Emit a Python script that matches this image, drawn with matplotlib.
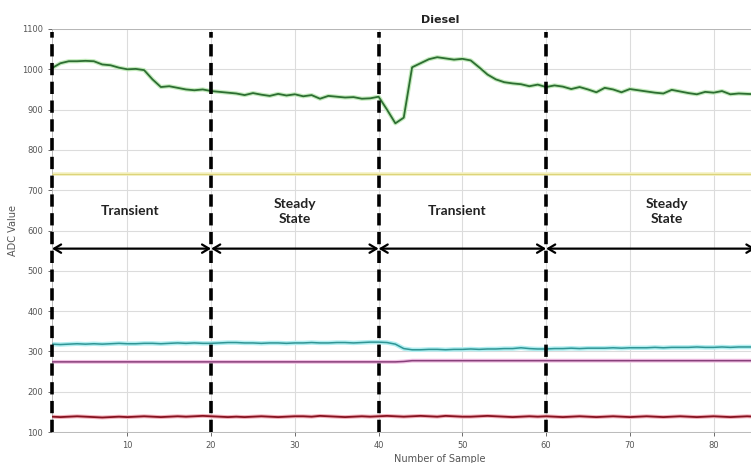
import matplotlib
matplotlib.use("Agg")
import matplotlib.pyplot as plt

samples = list(range(1, 86))
green = [1003, 1015, 1020, 1020, 1021, 1020, 1012, 1010, 1004, 1000,
         1001, 998, 975, 956, 958, 954, 950, 948, 950, 946,
         944, 942, 940, 936, 941, 937, 934, 939, 935, 938,
         933, 936, 927, 934, 932, 930, 931, 927, 928, 932,
         900, 866, 880, 1005, 1015, 1025, 1030, 1027, 1024, 1026,
         1022, 1005, 987, 975, 968, 965, 963, 958, 962, 956,
         960, 957, 951, 956, 950, 943, 954, 950, 943, 951,
         948, 945, 942, 940, 949, 945, 941, 938, 944, 942,
         946, 938, 940, 939, 938]
yellow = [741] * 85
cyan = [318, 317, 318, 319, 318, 319, 318, 319, 320, 319,
        319, 320, 320, 319, 320, 321, 320, 321, 320, 320,
        321, 322, 322, 321, 321, 320, 321, 321, 320, 321,
        321, 322, 321, 321, 322, 322, 321, 322, 323, 323,
        322, 318, 307, 304, 304, 305, 305, 304, 305, 305,
        306, 305, 306, 306, 307, 307, 309, 307, 306, 306,
        307, 307, 308, 307, 308, 308, 308, 309, 308, 309,
        309, 309, 310, 309, 310, 310, 310, 311, 310, 310,
        311, 310, 311, 311, 311]
magenta = [274, 274, 274, 274, 274, 274, 274, 274, 274, 274,
           274, 274, 274, 274, 274, 274, 274, 274, 274, 274,
           274, 274, 274, 274, 274, 274, 274, 274, 274, 274,
           274, 274, 274, 274, 274, 274, 274, 274, 274, 274,
           274, 274, 275, 277, 277, 277, 277, 277, 277, 277,
           277, 277, 277, 277, 277, 277, 277, 277, 277, 277,
           277, 277, 277, 277, 277, 277, 277, 277, 277, 277,
           277, 277, 277, 277, 277, 277, 277, 277, 277, 277,
           277, 277, 277, 277, 277]
red = [138, 137, 138, 139, 138, 137, 136, 137, 138, 137,
       138, 139, 138, 137, 138, 139, 138, 139, 140, 139,
       138, 137, 138, 137, 138, 139, 138, 137, 138, 139,
       139, 138, 140, 139, 138, 137, 138, 139, 138, 139,
       140, 139, 138, 139, 140, 139, 138, 140, 139, 138,
       138, 139, 140, 139, 138, 137, 138, 139, 138, 139,
       138, 137, 138, 139, 138, 137, 138, 139, 138, 137,
       138, 139, 138, 137, 138, 139, 138, 137, 138, 139,
       138, 137, 138, 139, 138]

boundaries = [1, 20, 40, 60]
arrow_spans = [(1, 20), (20, 40), (40, 60), (60, 85)]
phase_labels = ["Transient", "Steady\nState", "Transient", "Steady\nState"]
phase_x = [10.3, 30, 49.4, 74.4]
xticks = [10, 20, 30, 40, 50, 60, 70, 80]
yticks = [100, 200, 300, 400, 500, 600, 700, 800, 900, 1000, 1100]

fig = plt.figure(figsize=(7.51, 4.63), dpi=100)
ax = fig.add_axes([52 / 751, 31 / 463, 776 / 751, 403 / 463])
ax.set_xlim(1, 93.66)
ax.set_ylim(100, 1100)
ax.set_xticks(xticks)
ax.set_yticks(yticks)
ax.grid(True, color="#dcdcdc", linewidth=0.8)
ax.tick_params(labelsize=6, colors="#555555", length=3, width=0.6)
for s in ax.spines.values():
    s.set_color("#b0b0b0")
    s.set_linewidth(0.6)
ax.spines["right"].set_visible(False)

def halo_line(y, light, dark, lw_light=3.5, lw_dark=1.2):
    ax.plot(samples, y, color=light, lw=lw_light, solid_capstyle="butt", zorder=2)
    ax.plot(samples, y, color=dark, lw=lw_dark, zorder=3)

halo_line(green, "#c4ebbd", "#2d6e32", 3.0, 1.3)
halo_line(yellow, "#f5f2c4", "#ddd47a", 2.6, 0.9)
halo_line(cyan, "#b0eef0", "#2f9595", 3.2, 1.1)
halo_line(magenta, "#f2c0e4", "#87407a", 2.8, 1.1)
halo_line(red, "#f3b0ba", "#86121f", 2.8, 1.3)

for b in boundaries:
    ax.plot([b, b], [100, 1092], color="black", lw=2.6, ls=(0, (3.4, 1.8)),
            zorder=5, clip_on=False)

for a, b in arrow_spans:
    ax.annotate("", xy=(b, 555), xytext=(a, 555),
                arrowprops=dict(arrowstyle="<->,head_length=0.5,head_width=0.3",
                                color="black", lw=1.6,
                                shrinkA=0, shrinkB=0),
                zorder=6, annotation_clip=False)

for lbl, px in zip(phase_labels, phase_x):
    ax.text(px, 648, lbl, ha="center", va="center", fontsize=10,
            fontweight="bold", family="Lato", color="#222222", linespacing=1.3)

ax.set_title("Diesel", fontsize=8, color="#222222", pad=4, fontweight="bold")
ax.set_xlabel("Number of Sample", fontsize=7, color="#555555", labelpad=3)
ax.set_ylabel("ADC Value", fontsize=7, color="#555555", labelpad=3)

fig.savefig("out.png", dpi=100)
